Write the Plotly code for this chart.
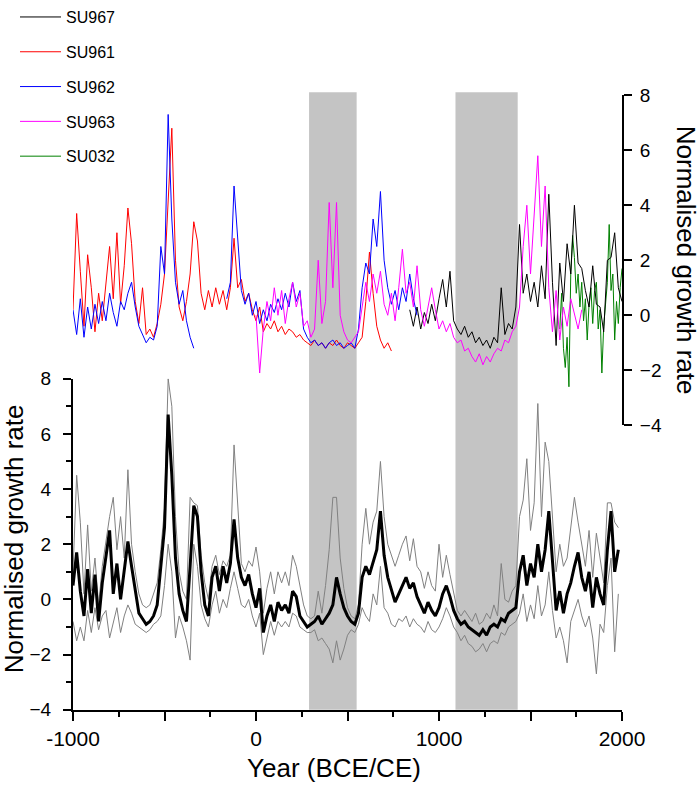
import plotly.graph_objects as go

# ---------------- data ----------------
comp_years = list(range(-1000, 2000, 20))
composite = [0.5, 1.7, 0.3, -0.6, 1.1, -0.5, 0.9, -0.8, 0.6, 1.5,
             2.5, 0.2, 1.3, 0.0, 1.0, 2.1, 1.2, 0.3, -0.5, -0.7,
             -0.9, -0.8, -0.6, -0.2, 1.2, 2.6, 6.7, 4.5, 1.5, 0.2,
             -0.4, -0.8, 1.2, 3.4, 3.0, 1.0, -0.2, -0.6, 0.8, 1.2,
             0.3, 1.2, 0.6, 1.3, 2.9, 1.5, 0.8, 0.5, 0.9, 0.2,
             -0.3, 0.4, -1.2, -0.6, -0.2, -0.8, -0.1, -0.4, -0.2, -0.5,
             0.3, 0.1, -0.6, -0.8, -1.0, -0.9, -0.8, -0.6, -0.9, -0.7,
             -0.5, -0.2, 0.8, 0.2, -0.3, -0.6, -0.8, -0.9, -0.5, 0.8,
             1.2, 0.9, 1.4, 1.8, 3.2, 1.6, 0.8, 0.3, -0.1, 0.2,
             0.5, 0.8, 0.4, 0.6, 0.1, -0.2, -0.5, -0.1, -0.4, -0.6,
             -0.3, 0.2, 0.5, 0.1, -0.4, -0.7, -0.9, -0.8, -1.0, -1.1,
             -1.2, -1.3, -1.1, -1.3, -1.0, -0.9, -1.0, -0.7, -0.8, -0.5,
             -0.4, -0.3, 1.0, 1.6, 0.5, 1.3, 0.8, 2.0, 1.0, 1.8,
             3.2, 1.5, -0.4, 0.3, -0.5, 0.2, 0.6, 1.2, 1.7, 0.8,
             0.3, 1.0, -0.3, 0.8, 0.2, -0.2, 1.8, 3.2, 1.0, 1.8]
upper = [1.0, 4.5, 2.8, 0.2, 2.7, 0.3, 1.5, -0.2, 1.2, 2.2,
         3.0, 3.7, 1.8, 3.0, 1.5, 4.7, 2.0, 1.0, 0.2, -0.2,
         -0.3, -0.2, 0.2, 0.6, 1.8, 3.3, 8.0, 7.0, 3.0, 1.0,
         0.3, 0.0, 3.7, 3.5, 3.4, 1.6, 0.6, 0.0, 1.2, 1.6,
         0.9, 1.4, 1.2, 1.6, 5.6, 3.4, 1.3, 1.0, 1.4, 1.2,
         1.9, 1.0, -0.5, 0.4, 1.0, 0.2, 1.0, 0.6, 1.0, 0.5,
         1.6, 1.2, 0.5, -0.2, -0.6, -0.7, -0.6, 0.3, -0.5, 0.5,
         1.8, 3.7, 3.7, 1.5, 0.4, -0.3, -0.6, -0.7, -0.2, 2.0,
         3.3, 2.0, 2.8, 3.2, 5.0, 3.0, 2.0, 1.6, 1.2, 1.6,
         2.0, 2.3, 1.4, 2.2, 1.2, 1.0, 0.4, 1.0, 0.5, 0.3,
         2.0, 0.8, 1.6, 0.9, 0.2, -0.4, -0.6, -0.4, -0.6, -0.8,
         -0.5, -0.9, -0.8, -0.5, -0.7, -0.2, -0.6, 1.3, 0.0, -0.1,
         0.3, 0.5, 3.0, 3.6, 5.1, 2.5, 3.5, 7.1, 3.0, 5.7,
         5.0, 3.0, 1.0, 2.0, 1.2, 1.5, 2.6, 3.7, 2.8, 2.0,
         1.2, 2.5, 0.8, 2.4, 1.5, 0.6, 3.5, 3.5, 2.8, 2.6]
lower = [-0.8, -1.5, -1.0, -1.5, -0.4, -1.2, -0.3, -1.1, -0.6, -0.4,
         -1.4, -0.8, -0.3, -1.2, -0.6, -0.2, -0.5, -0.9, -1.0, -1.1,
         -1.2, -1.1, -0.9, -0.8, -0.6, 0.5, 2.0, 1.0, -1.4, -0.6,
         -1.0, -1.5, -2.2, 2.0, 1.2, -0.2, -0.7, -1.0, -0.2, 0.3,
         -0.5, 0.0, -0.3, 0.4, 1.0, 0.4, -0.2, -0.3, 0.0, -0.6,
         -1.0, -0.5, -2.0, -1.4, -0.8, -1.3, -0.8, -1.0, -0.8, -1.0,
         -0.5, -0.6, -1.0, -1.1, -1.2, -1.2, -1.1, -1.5, -1.4, -1.6,
         -1.8, -2.3, -1.5, -2.2, -1.8, -1.3, -1.1, -1.2, -0.9, -0.3,
         -0.6, -0.8, 0.2, -0.2, 1.2, -0.3, -0.5, -0.9, -1.0, -0.7,
         -0.8, -0.6, -1.0, -0.7, -0.9, -1.0, -1.2, -0.8, -1.1, -1.2,
         -1.0, -0.7, -0.3, -0.6, -1.0, -1.2, -1.5, -1.3, -1.6, -1.7,
         -1.9, -1.8, -1.6, -1.9, -1.6, -1.5, -1.6, -1.2, -1.3, -1.0,
         -0.9, -0.8, -0.5, 0.2, -0.8, -0.2, -0.7, 0.5, -0.6, -0.2,
         1.0, -0.4, -1.4, -1.0, -1.5, -2.3, -0.8, -0.4, 0.0, -0.6,
         -1.0, -0.6, -1.4, -2.7, -0.9, -1.2, 0.5, 1.5, -1.9, 0.2]

su961_years = list(range(-1000, 760, 20))
su961 = [0.2, 3.7, 1.6, -0.4, 2.2, 1.0, -0.6, 0.8, -0.2, 1.3,
         2.5, 0.6, 3.0, 0.4, 1.8, 3.9, 2.6, 0.5, -0.3, 1.0,
         -0.7, -0.5, -0.8, -0.3, 0.4, 1.5, 4.4, 6.8, 2.0, 0.3,
         -0.2, 0.5, 1.5, 3.4, 2.7, 0.8, 0.2, 0.9, 0.3, 1.0,
         0.4, 0.9, 0.2, 1.0, 2.8, 1.0, 1.3, 0.5, 0.8, 0.2,
         -0.2, 0.3, -0.6, -0.3, -0.5, -0.2, -0.6, -0.4, -0.7, -0.5,
         -0.6, -0.8, -0.7, -0.9, -1.0, -1.1, -0.9, -1.1, -1.0, -1.2,
         -1.0, -1.1, -0.9, -1.1, -1.2, -1.0, -1.1, -1.2, -1.0, -0.8,
         0.5, 2.3, 0.8, -0.4, -0.9, -1.2, -1.0, -1.3]

su962_years = list(range(-1000, 900, 20))
su962 = [0.2, -0.7, 0.6, -0.8, 0.3, -0.5, 0.4, -0.3, 0.5, -0.2,
         0.8, 0.1, -0.4, 0.5, 0.2, 0.8, 1.2, 0.3, -0.4, -0.7,
         -1.0, -0.8, -0.9, -0.4, 2.5, 1.5, 7.3, 3.5, 1.2, 0.4,
         0.9, -0.2, -0.8, -1.2, None, None, None, None, None, None,
         None, None, 0.6, 1.2, 4.7, 2.8, 0.9, 0.4, 0.8, 0.0,
         0.5, -0.3, 0.2, -0.2, 0.4, 0.1, 0.6, 0.2, 0.8, 0.3,
         1.2, 0.5, 0.9, -0.5, -0.8, -1.0, -0.9, -1.1, -1.0, -1.2,
         -1.0, -0.9, -1.1, -1.0, -1.2, -1.1, -1.0, -1.2, -0.5, 1.0,
         1.9, 1.5, 3.5, 2.5, 4.5, 2.0, 1.0, 0.4, 0.9, 0.2,
         1.0, 0.5, 1.5, 0.6, 0.0]

su963_years = list(range(0, 1800, 20))
su963 = [0.0, -2.1, -0.5, 0.5, -0.2, 1.0, 0.0, 0.9, -0.3, 0.6,
         1.2, 0.3, 0.8, -0.4, -0.2, -0.8, -0.5, 2.0, -0.3, 0.5,
         4.1, 1.0, 4.1, 0.0, -0.6, -0.9, -1.0, -0.8, -0.6, 0.3,
         1.2, 0.5, 1.5, 0.8, 1.6, 0.4, 0.0, 0.8, -0.2, 1.0,
         2.4, 0.8, 1.2, 0.3, 1.8, 0.2, -0.4, 0.3, 1.0, 0.2,
         -0.5, -0.2, -0.6, -0.3, -0.8, -1.0, -0.9, -1.3, -1.2, -1.5,
         -1.7, -1.4, -1.8, -1.5, -1.7, -1.4, -1.2, -1.3, -0.9, -1.0,
         -0.6, -0.4, 0.3, 2.5, 4.0, 1.5, 3.8, 5.8, 2.5, 4.7,
         1.0, -0.6, 0.9, -0.9, 0.3, -0.4, 0.6, 0.0, -0.5, 0.2]

su967_years = list(range(840, 2020, 20))
su967 = [0.2, -0.4, 0.3, -0.5, 0.1, -0.3, 0.4, -0.2, 0.6, 1.3,
         0.3, 1.6, -0.2, -0.5, -0.7, -0.4, -0.8, -0.6, -1.0, -0.8,
         -1.1, -0.9, -1.2, -0.8, -1.0, 1.0, -0.7, -0.3, -0.5, 0.3,
         3.3, 0.8, 1.5, 0.5, 1.2, 0.3, 1.8, 0.6, 4.4, 1.2,
         -1.1, 1.9, 0.5, 2.6, 1.5, 4.0, 1.9, 1.7, 0.9, 0.3,
         1.8, 0.4, 0.3, -0.6, 2.0, 2.1, 3.0, 1.0, 0.5]

su032_years = list(range(1660, 2010, 10))
su032 = [-0.5, 0.8, -1.2, -1.9, -0.8, -2.6, 1.5, 2.9, 2.1, 0.8,
         1.5, 0.3, 1.2, -0.2, 0.6, -0.9, 0.4, 1.0, -0.3, 0.9,
         1.2, -0.5, 0.2, -2.1, -0.4, 0.3, 1.2, 3.3, 0.9, 1.5,
         -0.9, 0.5, -0.3, 1.0, 1.7]

bands = [(290, 550), (1090, 1430)]
x_tickvals = [-1000, -500, 0, 500, 1000, 1500, 2000]
x_ticktext = ["-1000", "", "0", "", "1000", "", "2000"]

# ---------------- layout helpers ----------------
W, H = 700, 795
FONT = "Liberation Sans, Arial, sans-serif"


def fx(p):
    return p / W


def fy(p):
    return 1 - p / H


fig = go.Figure()

# bottom panel (composite)
fig.add_trace(go.Scatter(x=comp_years, y=upper, mode="lines", xaxis="x", yaxis="y",
                         line=dict(color="#808080", width=1), showlegend=False))
fig.add_trace(go.Scatter(x=comp_years, y=lower, mode="lines", xaxis="x", yaxis="y",
                         line=dict(color="#808080", width=1), showlegend=False))
fig.add_trace(go.Scatter(x=comp_years, y=composite, mode="lines", xaxis="x", yaxis="y",
                         line=dict(color="black", width=3), showlegend=False))

# top panel (individual records)
series = [
    ("SU032", su032_years, su032, "#008000", 5),
    ("SU967", su967_years, su967, "black", 1),
    ("SU961", su961_years, su961, "#FF0000", 2),
    ("SU962", su962_years, su962, "#0000FF", 3),
    ("SU963", su963_years, su963, "#FF00FF", 4),
]
for name, xs, ys, col, rank in series:
    fig.add_trace(go.Scatter(x=xs, y=ys, mode="lines", name=name, xaxis="x2", yaxis="y2",
                             line=dict(color=col, width=1), legendrank=rank,
                             legendgroup=name, connectgaps=False))

for x0, x1 in bands:
    fig.add_shape(type="rect", xref="x", yref="paper", x0=x0, x1=x1,
                  y0=fy(709), y1=fy(86), fillcolor="#C4C4C4", line=dict(width=0),
                  layer="below")

axis_common = dict(showline=True, linecolor="black", linewidth=2, ticks="outside",
                   tickcolor="black", tickwidth=2, showgrid=False, zeroline=False,
                   automargin=False)

fig.update_layout(
    width=W, height=H, autosize=False,
    margin=dict(l=0, r=0, t=0, b=0),
    paper_bgcolor="white", plot_bgcolor="rgba(0,0,0,0)",
    font=dict(family=FONT, color="black"),
    xaxis=dict(domain=[fx(73), fx(622)], range=[-1000, 2000], anchor="y",
               tickmode="array", tickvals=x_tickvals, ticktext=x_ticktext,
               ticklen=9, tickfont=dict(size=21), ticklabelstandoff=0,
               minor=dict(ticks="outside", ticklen=5, tickwidth=2, tickcolor="black",
                          tick0=-1000, dtick=250),
               **axis_common),
    yaxis=dict(domain=[fy(709), fy(375)], range=[-4, 8], anchor="x",
               tick0=-4, dtick=2, ticklen=8, tickfont=dict(size=19), ticklabelstandoff=8,
               minor=dict(ticks="outside", ticklen=5, tickwidth=2, tickcolor="black",
                          tick0=-4, dtick=1),
               **axis_common),
    xaxis2=dict(domain=[fx(73), fx(622)], range=[-1000, 2000], anchor="y2", visible=False),
    yaxis2=dict(domain=[fy(422), fy(89)], range=[-4, 8], anchor="x2", side="right",
                tick0=-4, dtick=2, ticklen=8, tickfont=dict(size=19), ticklabelstandoff=4,
                **axis_common),
    legend=dict(x=fx(15), y=fy(-7), xanchor="left", yanchor="top",
                font=dict(size=16, family=FONT), tracegroupgap=11, itemwidth=41,
                bgcolor="rgba(0,0,0,0)", traceorder="grouped"),
    annotations=[
        dict(text="Normalised growth rate", x=fx(14), y=fy(537), xref="paper", yref="paper",
             showarrow=False, textangle=-90, font=dict(size=26, family=FONT),
             xanchor="center", yanchor="middle"),
        dict(text="Normalised growth rate", x=fx(686), y=fy(255), xref="paper", yref="paper",
             showarrow=False, textangle=90, font=dict(size=26, family=FONT),
             xanchor="center", yanchor="middle"),
        dict(text="Year (BCE/CE)", x=fx(334), y=fy(768), xref="paper", yref="paper",
             showarrow=False, font=dict(size=26, family=FONT),
             xanchor="center", yanchor="middle"),
    ],
)

fig.write_html("out.html", post_script="document.body.style.margin='0';",
               config={"displayModeBar": False})
